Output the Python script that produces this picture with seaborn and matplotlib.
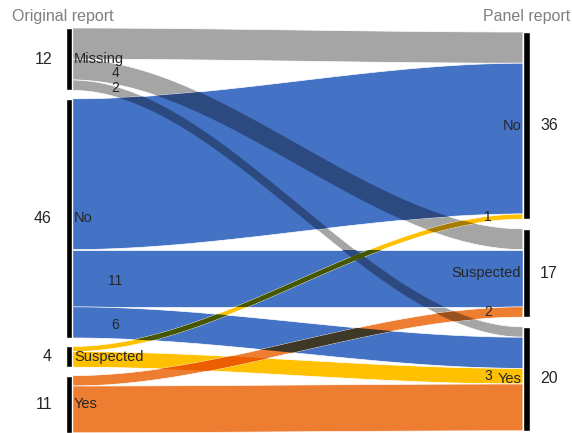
import numpy as np
import seaborn as sns
import matplotlib

matplotlib.use("Agg")
import matplotlib.pyplot as plt
from matplotlib.patches import Polygon
from matplotlib.colors import to_rgb

# Data: flows from original report (rows) to panel report (columns)
origin = ["Missing", "No", "Suspected", "Yes"]
panel = ["No", "Suspected", "Yes"]
flow_counts = [
    [6, 4, 2],
    [29, 11, 6],
    [1, 0, 3],
    [0, 2, 9],
]
# which flows get a number, and on which side
flow_labels = [
    ("Missing", "Suspected", "left"),
    ("Missing", "Yes", "left"),
    ("No", "Suspected", "left"),
    ("No", "Yes", "left"),
    ("Suspected", "No", "right"),
    ("Yes", "Suspected", "right"),
    ("Suspected", "Yes", "right"),
]

colors = {
    "Missing": "#A5A5A5",
    "No": "#4472C4",
    "Suspected": "#FFC000",
    "Yes": "#ED7D31",
}

sns.set_style("white")
plt.rcParams["font.family"] = ["Liberation Sans", "DejaVu Sans"]

# layout (pixel space)
W, H = 572, 433
PX = 5.2
X_L, X_R = 72, 523
BAR_W = 6.5
TOP_L, TOP_R = 28, 32
GAP_L, GAP_R = 8.4, 9.6

counts = np.array(flow_counts, dtype=float)
left_tot = counts.sum(axis=1)
right_tot = counts.sum(axis=0)

left_y0 = {}
y = TOP_L
for name, t in zip(origin, left_tot):
    left_y0[name] = y
    y += t * PX + GAP_L
right_y0 = {}
y = TOP_R
for name, t in zip(panel, right_tot):
    right_y0[name] = y
    y += t * PX + GAP_R

# stacking positions of each flow at both ends
flows = []
lcur = dict(left_y0)
for i, s in enumerate(origin):
    for j, d in enumerate(panel):
        v = counts[i, j]
        if v <= 0:
            continue
        flows.append({"src": s, "dst": d, "v": v, "l0": lcur[s], "l1": lcur[s] + v * PX})
        lcur[s] += v * PX
rcur = dict(right_y0)
for j, d in enumerate(panel):
    for f in flows:
        if f["dst"] == d:
            f["r0"] = rcur[d]
            f["r1"] = rcur[d] + f["v"] * PX
            rcur[d] += f["v"] * PX

xs = np.linspace(X_L, X_R, 200)
tt = (xs - X_L) / (X_R - X_L)
ss = tt * tt * (3 - 2 * tt)


def flow_poly(f):
    top = f["l0"] + (f["r0"] - f["l0"]) * ss
    bot = f["l1"] + (f["r1"] - f["l1"]) * ss
    return np.vstack([np.column_stack([xs, top]), np.column_stack([xs[::-1], bot[::-1]])])


fig = plt.figure(figsize=(W / 100, H / 100), dpi=100)
ax = fig.add_axes([0, 0, 1, 1])
ax.set_xlim(0, W)
ax.set_ylim(H, 0)
ax.axis("off")

patches = []
for f in flows:
    p = Polygon(flow_poly(f), closed=True, facecolor=colors[f["src"]],
                edgecolor="white", linewidth=0.5, zorder=2)
    ax.add_patch(p)
    patches.append(p)

# multiply-like blending where flows cross
for a in range(len(flows)):
    for b in range(a + 1, len(flows)):
        fa, fb = flows[a], flows[b]
        ca = (fa["l0"] + fa["l1"]) / 2 - (fb["l0"] + fb["l1"]) / 2
        cb = (fa["r0"] + fa["r1"]) / 2 - (fb["r0"] + fb["r1"]) / 2
        if ca * cb >= 0:
            continue
        mix = tuple(np.array(to_rgb(colors[fa["src"]])) * np.array(to_rgb(colors[fb["src"]])))
        ov = Polygon(flow_poly(fb), closed=True, facecolor=mix, edgecolor="none", zorder=3)
        ax.add_patch(ov)
        ov.set_clip_path(patches[a])

# node bars
for name, t in zip(origin, left_tot):
    ax.bar(X_L - BAR_W / 2, t * PX, width=BAR_W, bottom=left_y0[name], color="black", zorder=4)
    yc = left_y0[name] + t * PX / 2
    ax.text(X_L + 2, yc, name, ha="left", va="center", fontsize=10.5, zorder=5)
    ax.text(52, yc, f"{int(t)}", ha="right", va="center", fontsize=11.5, zorder=5)
for name, t in zip(panel, right_tot):
    ax.bar(X_R + BAR_W / 2, t * PX, width=BAR_W, bottom=right_y0[name], color="black", zorder=4)
    yc = right_y0[name] + t * PX / 2
    ax.text(X_R - 2, yc, name, ha="right", va="center", fontsize=10.5, zorder=5)
    ax.text(540, yc, f"{int(t)}", ha="left", va="center", fontsize=11.5, zorder=5)

# flow numbers
for s, d, side in flow_labels:
    f = next(f for f in flows if f["src"] == s and f["dst"] == d)
    if side == "left":
        ax.text(X_L + 43, (f["l0"] + f["l1"]) / 2 + 3, f"{int(f['v'])}",
                ha="center", va="center", fontsize=10, zorder=5)
    else:
        ax.text(X_R - 31, (f["r0"] + f["r1"]) / 2, f"{int(f['v'])}",
                ha="right", va="center", fontsize=10, zorder=5)

ax.text(12, 17, "Original report", ha="left", va="center", fontsize=11.5, color="#7f7f7f")
ax.text(W - 2, 17, "Panel report", ha="right", va="center", fontsize=11.5, color="#7f7f7f")

fig.savefig("out.png", dpi=100)
